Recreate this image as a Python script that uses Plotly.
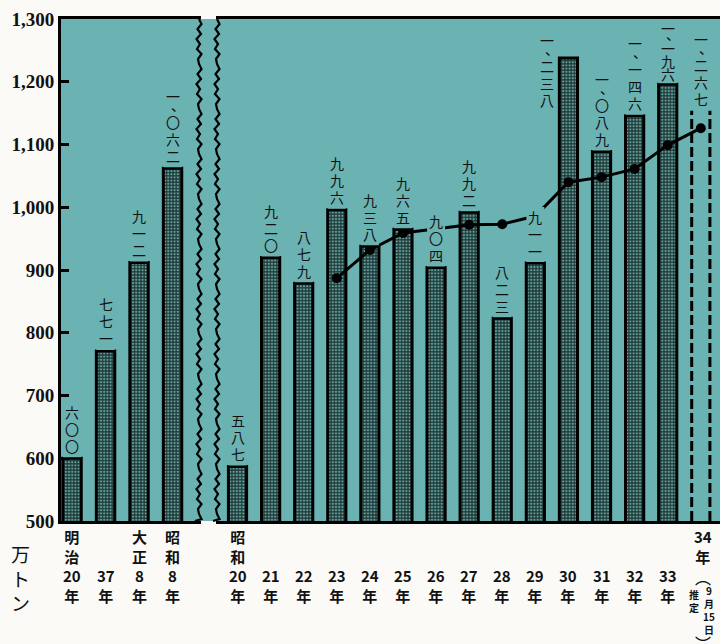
import plotly.graph_objects as go

# ---------------- data ----------------
left_years = ["明治20年", "明治37年", "大正8年", "昭和8年"]
left_labels = ["明<br>治<br>20<br>年", "37<br>年", "大<br>正<br>8<br>年", "昭<br>和<br>8<br>年"]
left_values = [600, 771, 912, 1062]

right_years = ["昭和20年", "21年", "22年", "23年", "24年", "25年", "26年", "27年",
               "28年", "29年", "30年", "31年", "32年", "33年", "34年"]
right_labels = ["昭<br>和<br>20<br>年", "21<br>年", "22<br>年", "23<br>年", "24<br>年",
                "25<br>年", "26<br>年", "27<br>年", "28<br>年", "29<br>年", "30<br>年",
                "31<br>年", "32<br>年", "33<br>年", "34<br>年"]
right_values = [587, 920, 879, 996, 938, 965, 904, 992, 823, 911, 1238, 1089, 1146, 1196, 1267]
estimate_year = "34年"
side_label_year = "30年"   # label drawn beside its bar (no room above)

avg_years = ["23年", "24年", "25年", "26年", "27年", "28年", "29年", "30年", "31年", "32年", "33年", "34年"]
avg_values = [887, 932, 959, 966, 972, 973, 986, 1040, 1048, 1061, 1099, 1126]

y_ticks = [500, 600, 700, 800, 900, 1000, 1100, 1200, 1300]
y_ticktext = ["500", "600", "700", "800", "900", "1,000", "1,100", "1,200", "1,300"]

# ---------------- styles ----------------
TEAL = "#6ab3b2"
BAR_BG = "#223c3b"
BAR_FG = "#64a49f"
PAPER = "#fbfaf6"
INK = "#111111"
W, H = 720, 644
ML, MR, MT, MB = 61, 0, 19, 123
PW = W - ML - MR
PH = H - MT - MB
Y0, Y1 = 500, 1300
PXU = PH / (Y1 - Y0)          # pixels per unit
LEFT_END_PX = 201
RIGHT_START_PX = 216

KD = dict(zip("0123456789", "〇一二三四五六七八九"))


def kanji_chars(v):
    chars = [KD[c] for c in str(v)]
    if len(chars) == 4:
        chars.insert(1, "、")
    return chars


def xp(px):
    return (px - ML) / PW


def yp(py):
    return (MT + PH - py) / PH


bw = 0.55
pattern = dict(shape=".", fgcolor=BAR_FG, bgcolor=BAR_BG, size=3.2, solidity=0.36, fillmode="replace")

fig = go.Figure()

fig.add_trace(go.Bar(
    x=left_years, y=left_values, xaxis="x", yaxis="y", width=bw,
    marker=dict(color=BAR_BG, pattern=pattern, line=dict(color="black", width=3)),
    hoverinfo="skip", showlegend=False))

actual_years = [y for y in right_years if y != estimate_year]
actual_vals = [v for y, v in zip(right_years, right_values) if y != estimate_year]
fig.add_trace(go.Bar(
    x=actual_years, y=actual_vals, xaxis="x2", yaxis="y", width=bw,
    marker=dict(color=BAR_BG, pattern=pattern, line=dict(color="black", width=3)),
    hoverinfo="skip", showlegend=False))

fig.add_trace(go.Scatter(
    x=avg_years, y=avg_values, xaxis="x2", yaxis="y", mode="lines+markers",
    line=dict(color="black", width=3), marker=dict(color="black", size=10),
    hoverinfo="skip", showlegend=False))

shapes = []
shapes.append(dict(type="rect", xref="paper", yref="paper", x0=xp(LEFT_END_PX), x1=xp(RIGHT_START_PX),
                   y0=0, y1=1, fillcolor=TEAL, line=dict(width=0), layer="below"))

# dashed outline for the estimated year
est_idx = right_years.index(estimate_year)
est_val = right_values[est_idx]
for side in (-1, 1):
    xx = est_idx + side * bw / 2
    shapes.append(dict(type="line", xref="x2", yref="y", x0=xx, x1=xx, y0=Y0, y1=est_val,
                       line=dict(color="black", width=3, dash="10px,4px"), layer="above"))


def wavy(px_center):
    pts = []
    py = MT
    i = 0
    amps = [0, 2.5, -1.5, 2.0, -2.5, 1.0, -2.0, 2.5, -1.0]
    while py <= MT + PH:
        pts.append((px_center + amps[i % len(amps)], py))
        py += 5
        i += 1
    pts.append((px_center - 4, MT + PH))
    path = "M " + " L ".join(f"{xp(a):.5f},{yp(b):.5f}" for a, b in pts)
    return dict(type="path", xref="paper", yref="paper", path=path,
                line=dict(color="black", width=2.2), layer="above")


shapes.append(wavy(LEFT_END_PX - 2))
shapes.append(wavy(RIGHT_START_PX + 1))

annotations = []
VAL_SIZE = 14
STEP = 17.0
COMMA_STEP = 9.0
GAP = 4.0


def vlabel(xref, cats, cat, value, mode="above", xshift=0, top_px=None, half_w=9):
    """Vertical (tategaki) label, one annotation per character, with a teal
    backing box (hides lines running behind the label)."""
    chars = kanji_chars(value)
    cells = [COMMA_STEP if c == "、" else STEP for c in chars]
    total = sum(cells)
    if mode == "above":
        avail = (Y1 - value) * PXU - GAP - 2
        scale = min(1.0, avail / total)
        cells = [h * scale for h in cells]
        total = sum(cells)
        top_off = GAP + total
    else:
        top_off = top_px
    shapes.append(dict(type="rect", xref=xref, yref="y", xsizemode="pixel", ysizemode="pixel",
                       xanchor=cats.index(cat), yanchor=value,
                       x0=xshift - half_w, x1=xshift + half_w, y0=top_off - total - 3, y1=top_off + 1,
                       fillcolor=TEAL, line=dict(width=0), layer="above"))
    cur = top_off
    for c, h in zip(chars, cells):
        center = cur - h / 2
        cur -= h
        dx, dy = (5, 4) if c == "、" else (0, 0)
        annotations.append(dict(x=cat, y=value, xref=xref, yref="y", text=c, showarrow=False,
                                yanchor="middle", xanchor="center", yshift=center + dy,
                                xshift=xshift + dx,
                                font=dict(family="Noto Sans CJK JP", size=VAL_SIZE, color=INK)))
    return total


for cat, v in zip(left_years, left_values):
    vlabel("x", left_years, cat, v)

for cat, v in zip(right_years, right_values):
    if cat == estimate_year:
        vlabel("x2", right_years, cat, v, mode="top", top_px=9, half_w=13)
    elif cat == side_label_year:
        vlabel("x2", right_years, cat, v, mode="top", xshift=-21, top_px=(Y1 - v) * PXU - 13)
    else:
        vlabel("x2", right_years, cat, v)

xl_font = dict(family="Noto Sans CJK JP", size=15, color=INK, weight="bold")
small_bold = dict(family="Noto Sans CJK JP", size=10, color=INK, weight="bold")
paren_font = dict(family="Noto Sans CJK JP", size=16, color=INK)
for cat, lab in zip(left_years, left_labels):
    annotations.append(dict(x=cat, y=0, xref="x", yref="paper", text=lab, showarrow=False,
                            yanchor="bottom", yshift=-87, font=xl_font))
for cat, lab in zip(right_years, right_labels):
    if cat == estimate_year:
        annotations.append(dict(x=cat, y=0, xref="x2", yref="paper", text=lab, showarrow=False,
                                yanchor="top", yshift=-3, xshift=2, font=xl_font))
        annotations.append(dict(x=cat, y=0, xref="x2", yref="paper", text="︵", showarrow=False,
                                yanchor="top", yshift=-42, xshift=2, font=paren_font))
        annotations.append(dict(x=cat, y=0, xref="x2", yref="paper", text="推<br>定", showarrow=False,
                                yanchor="top", yshift=-64, xshift=-7, font=small_bold))
        annotations.append(dict(x=cat, y=0, xref="x2", yref="paper", text="9<br>月<br>15<br>日",
                                showarrow=False, yanchor="top", yshift=-60, xshift=8, font=small_bold))
        annotations.append(dict(x=cat, y=0, xref="x2", yref="paper", text="︶", showarrow=False,
                                yanchor="top", yshift=-108, xshift=2, font=paren_font))
    else:
        annotations.append(dict(x=cat, y=0, xref="x2", yref="paper", text=lab, showarrow=False,
                                yanchor="bottom", yshift=-87, font=xl_font))

annotations.append(dict(x=xp(20), y=yp(538), xref="paper", yref="paper", text="万<br>ト<br>ン",
                        showarrow=False, yanchor="top", xanchor="center",
                        font=dict(family="Noto Sans CJK JP", size=19, color=INK)))

fig.update_layout(
    width=W, height=H,
    margin=dict(l=ML, r=MR, t=MT, b=MB, autoexpand=False),
    paper_bgcolor=PAPER, plot_bgcolor=TEAL,
    xaxis=dict(domain=[0, xp(LEFT_END_PX)], type="category", categoryorder="array",
               categoryarray=left_years, range=[-0.33, 3.85], showticklabels=False, ticks="",
               showline=True, mirror=True, linecolor="black", linewidth=3, showgrid=False,
               anchor="y", fixedrange=True, automargin=False),
    xaxis2=dict(domain=[xp(RIGHT_START_PX), 1], type="category", categoryorder="array",
                categoryarray=right_years, range=[-0.65, 14.58], showticklabels=False, ticks="",
                showline=True, mirror=True, linecolor="black", linewidth=3, showgrid=False,
                anchor="y", fixedrange=True, automargin=False),
    yaxis=dict(range=[Y0, Y1], tickvals=y_ticks, ticktext=y_ticktext, ticks="inside",
               ticklen=8, tickwidth=2.5, tickcolor="black", showline=True, linecolor="black",
               linewidth=3, showgrid=False, zeroline=False, fixedrange=True, automargin=False,
               tickfont=dict(family="Liberation Serif", size=19, color=INK, weight="bold")),
    shapes=shapes,
    annotations=annotations,
)

fig.write_html("out.html", config={"displayModeBar": False},
               post_script="document.body.style.margin='0px';document.body.style.overflow='hidden';")
